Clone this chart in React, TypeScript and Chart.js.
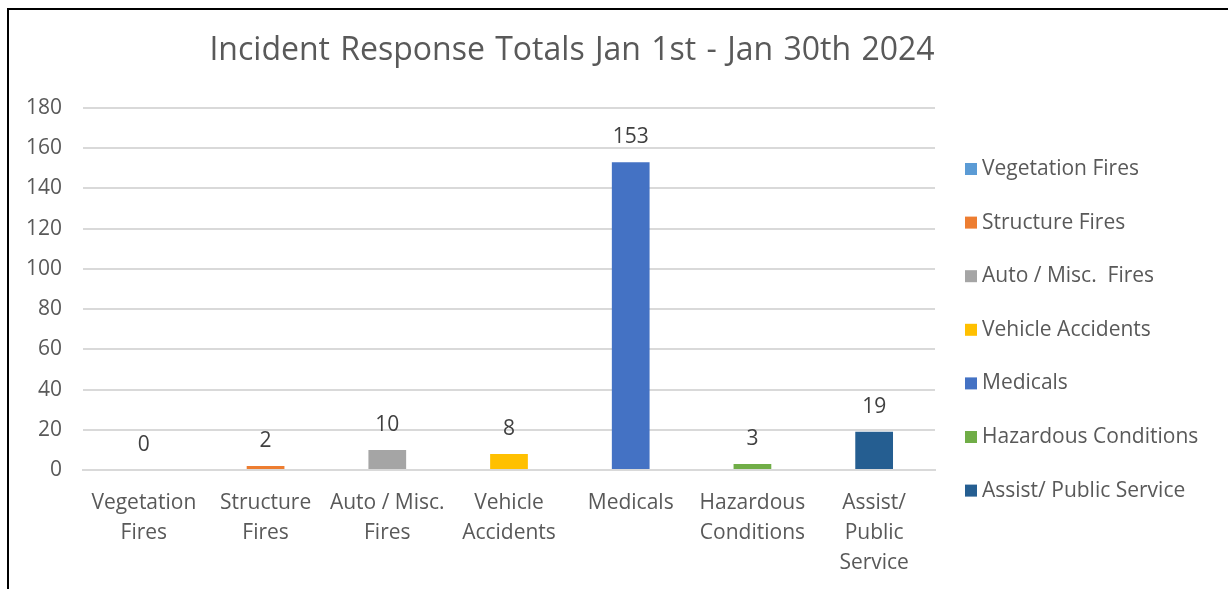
import React, { useEffect, useRef } from "react";
import { Chart, registerables } from "chart.js";

Chart.register(...registerables);

const titleText = "Incident Response Totals Jan 1st - Jan 30th 2024";
const categories: (string | string[])[] = [
  ["Vegetation", "Fires"],
  ["Structure", "Fires"],
  ["Auto / Misc.", "Fires"],
  ["Vehicle", "Accidents"],
  "Medicals",
  ["Hazardous", "Conditions"],
  ["Assist/", "Public", "Service"],
];
const legendLabels = [
  "Vegetation Fires",
  "Structure Fires",
  "Auto / Misc.  Fires",
  "Vehicle Accidents",
  "Medicals",
  "Hazardous Conditions",
  "Assist/ Public Service",
];
const values = [0, 2, 10, 8, 153, 3, 19];
const colors = ["#5B9BD5", "#ED7D31", "#A5A5A5", "#FFC000", "#4472C4", "#70AD47", "#255E91"];
const yMax = 180;
const yStep = 20;

const FONT = "'Open Sans', sans-serif";
const TEXT = "#595959";

export default function App() {
  const ref = useRef<HTMLCanvasElement | null>(null);
  useEffect(() => {
    if (!ref.current) return;
    const extras = {
      id: "extras",
      afterDraw(chart: any) {
        const ctx = chart.ctx;
        ctx.save();
        // title
        ctx.fillStyle = TEXT;
        ctx.font = `32px ${FONT}`;
        ctx.textAlign = "center";
        ctx.textBaseline = "middle";
        try { (ctx as any).wordSpacing = "2px"; } catch (e) {}
        ctx.fillText(titleText, 572, 51);
        try { (ctx as any).wordSpacing = "0px"; } catch (e) {}
        // data labels
        const meta = chart.getDatasetMeta(0);
        ctx.font = `21px ${FONT}`;
        ctx.fillStyle = "#404040";
        ctx.textBaseline = "middle";
        meta.data.forEach((bar: any, i: number) => {
          ctx.fillText(String(values[i]), bar.x, bar.y - 25);
        });
        // legend
        ctx.textAlign = "left";
        ctx.font = `21px ${FONT}`;
        const area = chart.chartArea;
        const x0 = area.right + 30;
        const startY = 169;
        const gap = 53.6;
        legendLabels.forEach((lab, i) => {
          const y = startY + i * gap;
          ctx.fillStyle = colors[i];
          ctx.fillRect(x0, y - 6, 12, 12);
          ctx.fillStyle = TEXT;
          ctx.fillText(lab, x0 + 17, y);
        });
        ctx.restore();
      },
    };
    const chart = new Chart(ref.current, {
      type: "bar",
      data: {
        labels: categories as any,
        datasets: [
          {
            label: "Incidents",
            data: values,
            backgroundColor: colors,
            borderWidth: 0,
            barPercentage: 0.31,
            categoryPercentage: 1,
          },
        ],
      },
      options: {
        animation: false,
        responsive: false,
        maintainAspectRatio: false,
        layout: { padding: { top: 108, left: 0, right: 293, bottom: 0 } },
        plugins: {
          legend: { display: false },
          title: { display: false },
          tooltip: { enabled: false },
        },
        scales: {
          x: {
            grid: { display: false, drawTicks: false },
            border: { display: true, color: "#D9D9D9", width: 2 },
            ticks: {
              color: TEXT,
              font: { family: FONT, size: 21, lineHeight: 1.42 },
              padding: 18,
              maxRotation: 0,
              autoSkip: false,
            },
            afterFit(scale: any) {
              scale.height = 119;
            },
          },
          y: {
            min: 0,
            max: yMax,
            ticks: {
              stepSize: yStep,
              color: TEXT,
              font: { family: FONT, size: 21 },
              padding: 21,
            },
            grid: { color: "#D9D9D9", lineWidth: 2, drawTicks: false },
            border: { display: false },
            afterFit(scale: any) {
              scale.width = 83;
            },
          },
        },
      },
      plugins: [extras],
    });
    return () => chart.destroy();
  }, []);
  return (
    <div style={{ position: "absolute", left: 0, top: 0, width: 1228, height: 589, background: "#fff", overflow: "hidden" }}>
      <div
        style={{
          position: "absolute",
          left: 7,
          top: 8,
          width: 1240,
          height: 600,
          borderLeft: "2.5px solid #000",
          borderTop: "2.5px solid #000",
        }}
      />
      <canvas ref={ref} width={1228} height={589} style={{ position: "absolute", left: 0, top: 0, width: 1228, height: 589 }} />
    </div>
  );
}
